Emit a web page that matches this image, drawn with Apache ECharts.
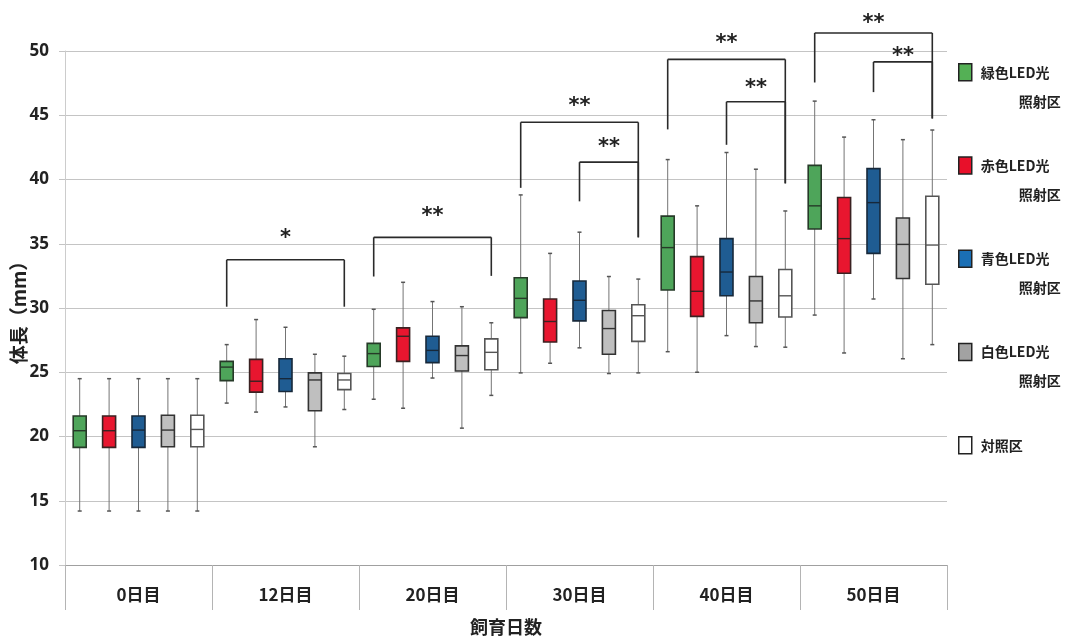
<!DOCTYPE html>
<html>
<head>
<meta charset="utf-8">
<script src="https://cdn.jsdelivr.net/npm/echarts@6/dist/echarts.min.js"></script>
<style>
  html, body { margin: 0; padding: 0; background: #ffffff; }
  #chart { width: 1067px; height: 637px; }
</style>
</head>
<body>
<div id="chart"></div>
<script>
// Rearing days (x categories)
const days = ['0日目', '12日目', '20日目', '30日目', '40日目', '50日目'];

// Legend labels, one entry per group (two-line labels for the LED groups)
const legendLines = [
  ['緑色LED光', '照射区'],
  ['赤色LED光', '照射区'],
  ['青色LED光', '照射区'],
  ['白色LED光', '照射区'],
  ['対照区']
];
const groupNames = legendLines.map(l => l.join(''));

// Body length (mm) five-number summaries per day: [min, Q1, median, Q3, max]
const greenLED = [
  [14.2, 19.15, 20.45, 21.6, 24.5],
  [22.6, 24.35, 25.4, 25.85, 27.15],
  [22.9, 25.45, 26.45, 27.25, 29.9],
  [24.95, 29.25, 30.75, 32.35, 38.8],
  [26.6, 31.4, 34.7, 37.15, 41.55],
  [29.45, 36.15, 37.95, 41.1, 46.1]
];
const redLED = [
  [14.2, 19.15, 20.45, 21.6, 24.5],
  [21.9, 23.45, 24.3, 26.0, 29.1],
  [22.2, 25.85, 27.8, 28.45, 32.0],
  [25.7, 27.35, 28.95, 30.7, 34.25],
  [25.0, 29.35, 31.3, 34.0, 37.95],
  [26.5, 32.7, 35.4, 38.6, 43.3]
];
const blueLED = [
  [14.2, 19.15, 20.5, 21.6, 24.5],
  [22.3, 23.5, 24.5, 26.05, 28.5],
  [24.55, 25.75, 26.7, 27.8, 30.5],
  [26.9, 29.0, 30.6, 32.1, 35.9],
  [27.85, 30.95, 32.8, 35.4, 42.1],
  [30.7, 34.25, 38.2, 40.85, 44.65]
];
const whiteLED = [
  [14.2, 19.2, 20.5, 21.65, 24.5],
  [19.2, 22.0, 24.4, 24.95, 26.4],
  [20.65, 25.1, 26.3, 27.05, 30.1],
  [24.9, 26.4, 28.4, 29.8, 32.45],
  [27.0, 28.85, 30.55, 32.45, 40.8],
  [26.05, 32.3, 34.95, 37.0, 43.1]
];
const control = [
  [14.2, 19.2, 20.55, 21.65, 24.5],
  [22.1, 23.65, 24.4, 24.9, 26.25],
  [23.2, 25.2, 26.55, 27.6, 28.85],
  [24.95, 27.4, 29.4, 30.25, 32.25],
  [26.95, 29.3, 30.95, 33.0, 37.55],
  [27.15, 31.85, 34.9, 38.7, 43.85]
];
const groupData = [greenLED, redLED, blueLED, whiteLED, control];

// Significance brackets: [day, fromGroup, toGroup, barTop, leftLegEnd, rightLegEnd, markY]
const brackets = [
  [1, 0, 4, 33.75, 30.1, 30.1, 35.7],
  [2, 0, 4, 35.5, 32.45, 32.5, 37.45],
  [3, 0, 4, 44.45, 39.35, 35.5, 45.95],
  [3, 2, 4, 41.35, 38.3, 35.5, 42.8],
  [4, 0, 4, 49.35, 43.9, 39.7, 50.9],
  [4, 2, 4, 46.05, 42.7, 39.7, 47.4],
  [5, 0, 4, 51.4, 47.55, 44.75, 52.45],
  [5, 2, 4, 49.15, 46.8, 44.75, 49.9]
];
const bracketMarks = ['*', '**', '**', '**', '**', '**', '**', '**'];

// Styling
const boxFill = ['#4ea55a', '#e8162f', '#1f5c92', '#bfbfbf', '#ffffff'];
const boxStroke = ['#263a28', '#3a2222', '#17283a', '#333333', '#555555'];
const legendFill = ['#54b055', '#e8102a', '#1a6fb5', '#a2a2a2', '#ffffff'];
const cjk = '"Noto Sans CJK JP", "Noto Sans", sans-serif';
const GROUPS = 5;

function slotX(api, day, group) {
  const band = api.size([1, 0])[0];
  return api.coord([day, 0])[0] + (group - (GROUPS - 1) / 2) * band / GROUPS;
}

function boxRenderer(g) {
  return function (params, api) {
    const day = api.value(0);
    const cx = slotX(api, day, g);
    const y = v => api.coord([day, v])[1];
    const yMin = y(api.value(1)), yQ1 = y(api.value(2)), yMed = y(api.value(3));
    const yQ3 = y(api.value(4)), yMax = y(api.value(5));
    const half = 6.5;
    const whisker = { stroke: '#747474', lineWidth: 1 };
    const cap = { stroke: '#555555', lineWidth: 1.5 };
    return {
      type: 'group',
      children: [
        { type: 'line', shape: { x1: cx, y1: yMax, x2: cx, y2: yQ3 }, style: whisker },
        { type: 'line', shape: { x1: cx, y1: yQ1, x2: cx, y2: yMin }, style: whisker },
        { type: 'line', shape: { x1: cx - 2, y1: yMax, x2: cx + 2, y2: yMax }, style: cap },
        { type: 'line', shape: { x1: cx - 2, y1: yMin, x2: cx + 2, y2: yMin }, style: cap },
        {
          type: 'rect',
          shape: { x: cx - half, y: yQ3, width: half * 2, height: yQ1 - yQ3 },
          style: { fill: boxFill[g], stroke: boxStroke[g], lineWidth: 1.6 }
        },
        {
          type: 'line',
          shape: { x1: cx - half, y1: yMed, x2: cx + half, y2: yMed },
          style: { stroke: boxStroke[g], lineWidth: 1.4 }
        }
      ]
    };
  };
}

function bracketRenderer(params, api) {
  const day = api.value(0);
  const xa = slotX(api, day, api.value(1));
  const xb = slotX(api, day, api.value(2));
  const y = v => api.coord([day, v])[1];
  const yTop = y(api.value(3));
  const line = { stroke: '#2a2a2a', lineWidth: 1.6 };
  return {
    type: 'group',
    children: [
      { type: 'line', shape: { x1: xa, y1: yTop, x2: xb, y2: yTop }, style: line },
      { type: 'line', shape: { x1: xa, y1: yTop, x2: xa, y2: y(api.value(4)) }, style: line },
      { type: 'line', shape: { x1: xb, y1: yTop, x2: xb, y2: y(api.value(5)) }, style: line },
      {
        type: 'text',
        x: (xa + xb) / 2,
        y: y(api.value(6)) + 4,
        style: {
          text: bracketMarks[params.dataIndex],
          fontSize: 21,
          fontWeight: 'bold',
          fontFamily: '"DejaVu Sans", sans-serif',
          fill: '#222222',
          align: 'center',
          verticalAlign: 'middle'
        }
      }
    ]
  };
}

const boxSeries = groupNames.map((name, g) => ({
  name: name,
  type: 'custom',
  renderItem: boxRenderer(g),
  itemStyle: { color: boxFill[g], borderColor: boxStroke[g], borderWidth: 1.5 },
  dimensions: ['day', 'min', 'q1', 'median', 'q3', 'max'],
  encode: { x: 'day', y: ['min', 'q1', 'median', 'q3', 'max'] },
  data: groupData[g].map((v, i) => [days[i]].concat(v)),
  silent: true,
  z: 3
}));

const bracketSeries = {
  name: 'significance',
  type: 'custom',
  renderItem: bracketRenderer,
  clip: false,
  dimensions: ['day', 'from', 'to', 'top', 'leftEnd', 'rightEnd', 'markY'],
  encode: { x: 'day', y: ['top'] },
  data: brackets.map(b => [days[b[0]]].concat(b.slice(1))),
  silent: true,
  z: 4
};

const chart = echarts.init(document.getElementById('chart'), null, { renderer: 'canvas' });
chart.setOption({
  backgroundColor: '#ffffff',
  animation: false,
  grid: { left: 65, right: 120, top: 51, bottom: 72, outerBoundsMode: 'none', containLabel: false },
  xAxis: {
    type: 'category',
    data: days,
    boundaryGap: true,
    axisLine: { show: true, lineStyle: { color: '#a0a0a0', width: 1 } },
    axisTick: { show: true, interval: 0, length: 45, lineStyle: { color: '#b4b4b4' } },
    axisLabel: {
      interval: 0, margin: 21, fontSize: 17, fontWeight: 'bold',
      color: '#222222', fontFamily: cjk
    },
    splitLine: { show: false },
    name: '飼育日数',
    nameLocation: 'middle',
    nameGap: 53,
    nameMoveOverlap: false,
    nameTextStyle: { fontSize: 18, fontWeight: 'bold', color: '#222222', fontFamily: cjk }
  },
  yAxis: {
    type: 'value',
    min: 10,
    max: 50,
    interval: 5,
    axisLine: { show: true, lineStyle: { color: '#cccccc' } },
    axisTick: { show: true, length: 6, lineStyle: { color: '#c4c4c4' } },
    splitLine: { show: true, lineStyle: { color: '#c4c4c4', width: 1 } },
    axisLabel: {
      margin: 16, fontSize: 17, fontWeight: 'bold', color: '#222222',
      fontFamily: '"Noto Sans", sans-serif'
    },
    name: '体長（mm）',
    nameLocation: 'middle',
    nameGap: 37,
    nameRotate: 90,
    nameMoveOverlap: false,
    nameTextStyle: { fontSize: 19, fontWeight: 'bold', color: '#222222', fontFamily: cjk }
  },
  legend: {
    orient: 'vertical',
    left: 958,
    top: 63,
    padding: 0,
    itemGap: 48,
    itemWidth: 13,
    itemHeight: 17,
    icon: 'rect',
    selectedMode: false,
    data: groupNames.map((name, g) => {
      const item = {
        name: name,
        itemStyle: { color: legendFill[g], borderColor: '#222222', borderWidth: 1.5 }
      };
      if (legendLines[g].length === 1) {
        item.textStyle = { padding: [29, 0, 29, 4] };
      }
      return item;
    }),
    formatter: function (name) {
      const lines = legendLines[groupNames.indexOf(name)];
      return lines.length > 1
        ? '{a|' + lines[0] + '}\n{b|' + lines[1] + '}'
        : '{a|' + lines[0] + '}';
    },
    textStyle: {
      padding: [29, 0, 0, 4],
      color: '#222222',
      fontFamily: cjk,
      fontWeight: 'bold',
      fontSize: 14,
      rich: {
        a: { fontSize: 14, fontWeight: 'bold', fontFamily: cjk, lineHeight: 29, color: '#222222' },
        b: { fontSize: 14, fontWeight: 'bold', fontFamily: cjk, lineHeight: 29, color: '#222222', padding: [0, 0, 0, 38] }
      }
    }
  },
  series: boxSeries.concat([bracketSeries])
});
</script>
</body>
</html>
